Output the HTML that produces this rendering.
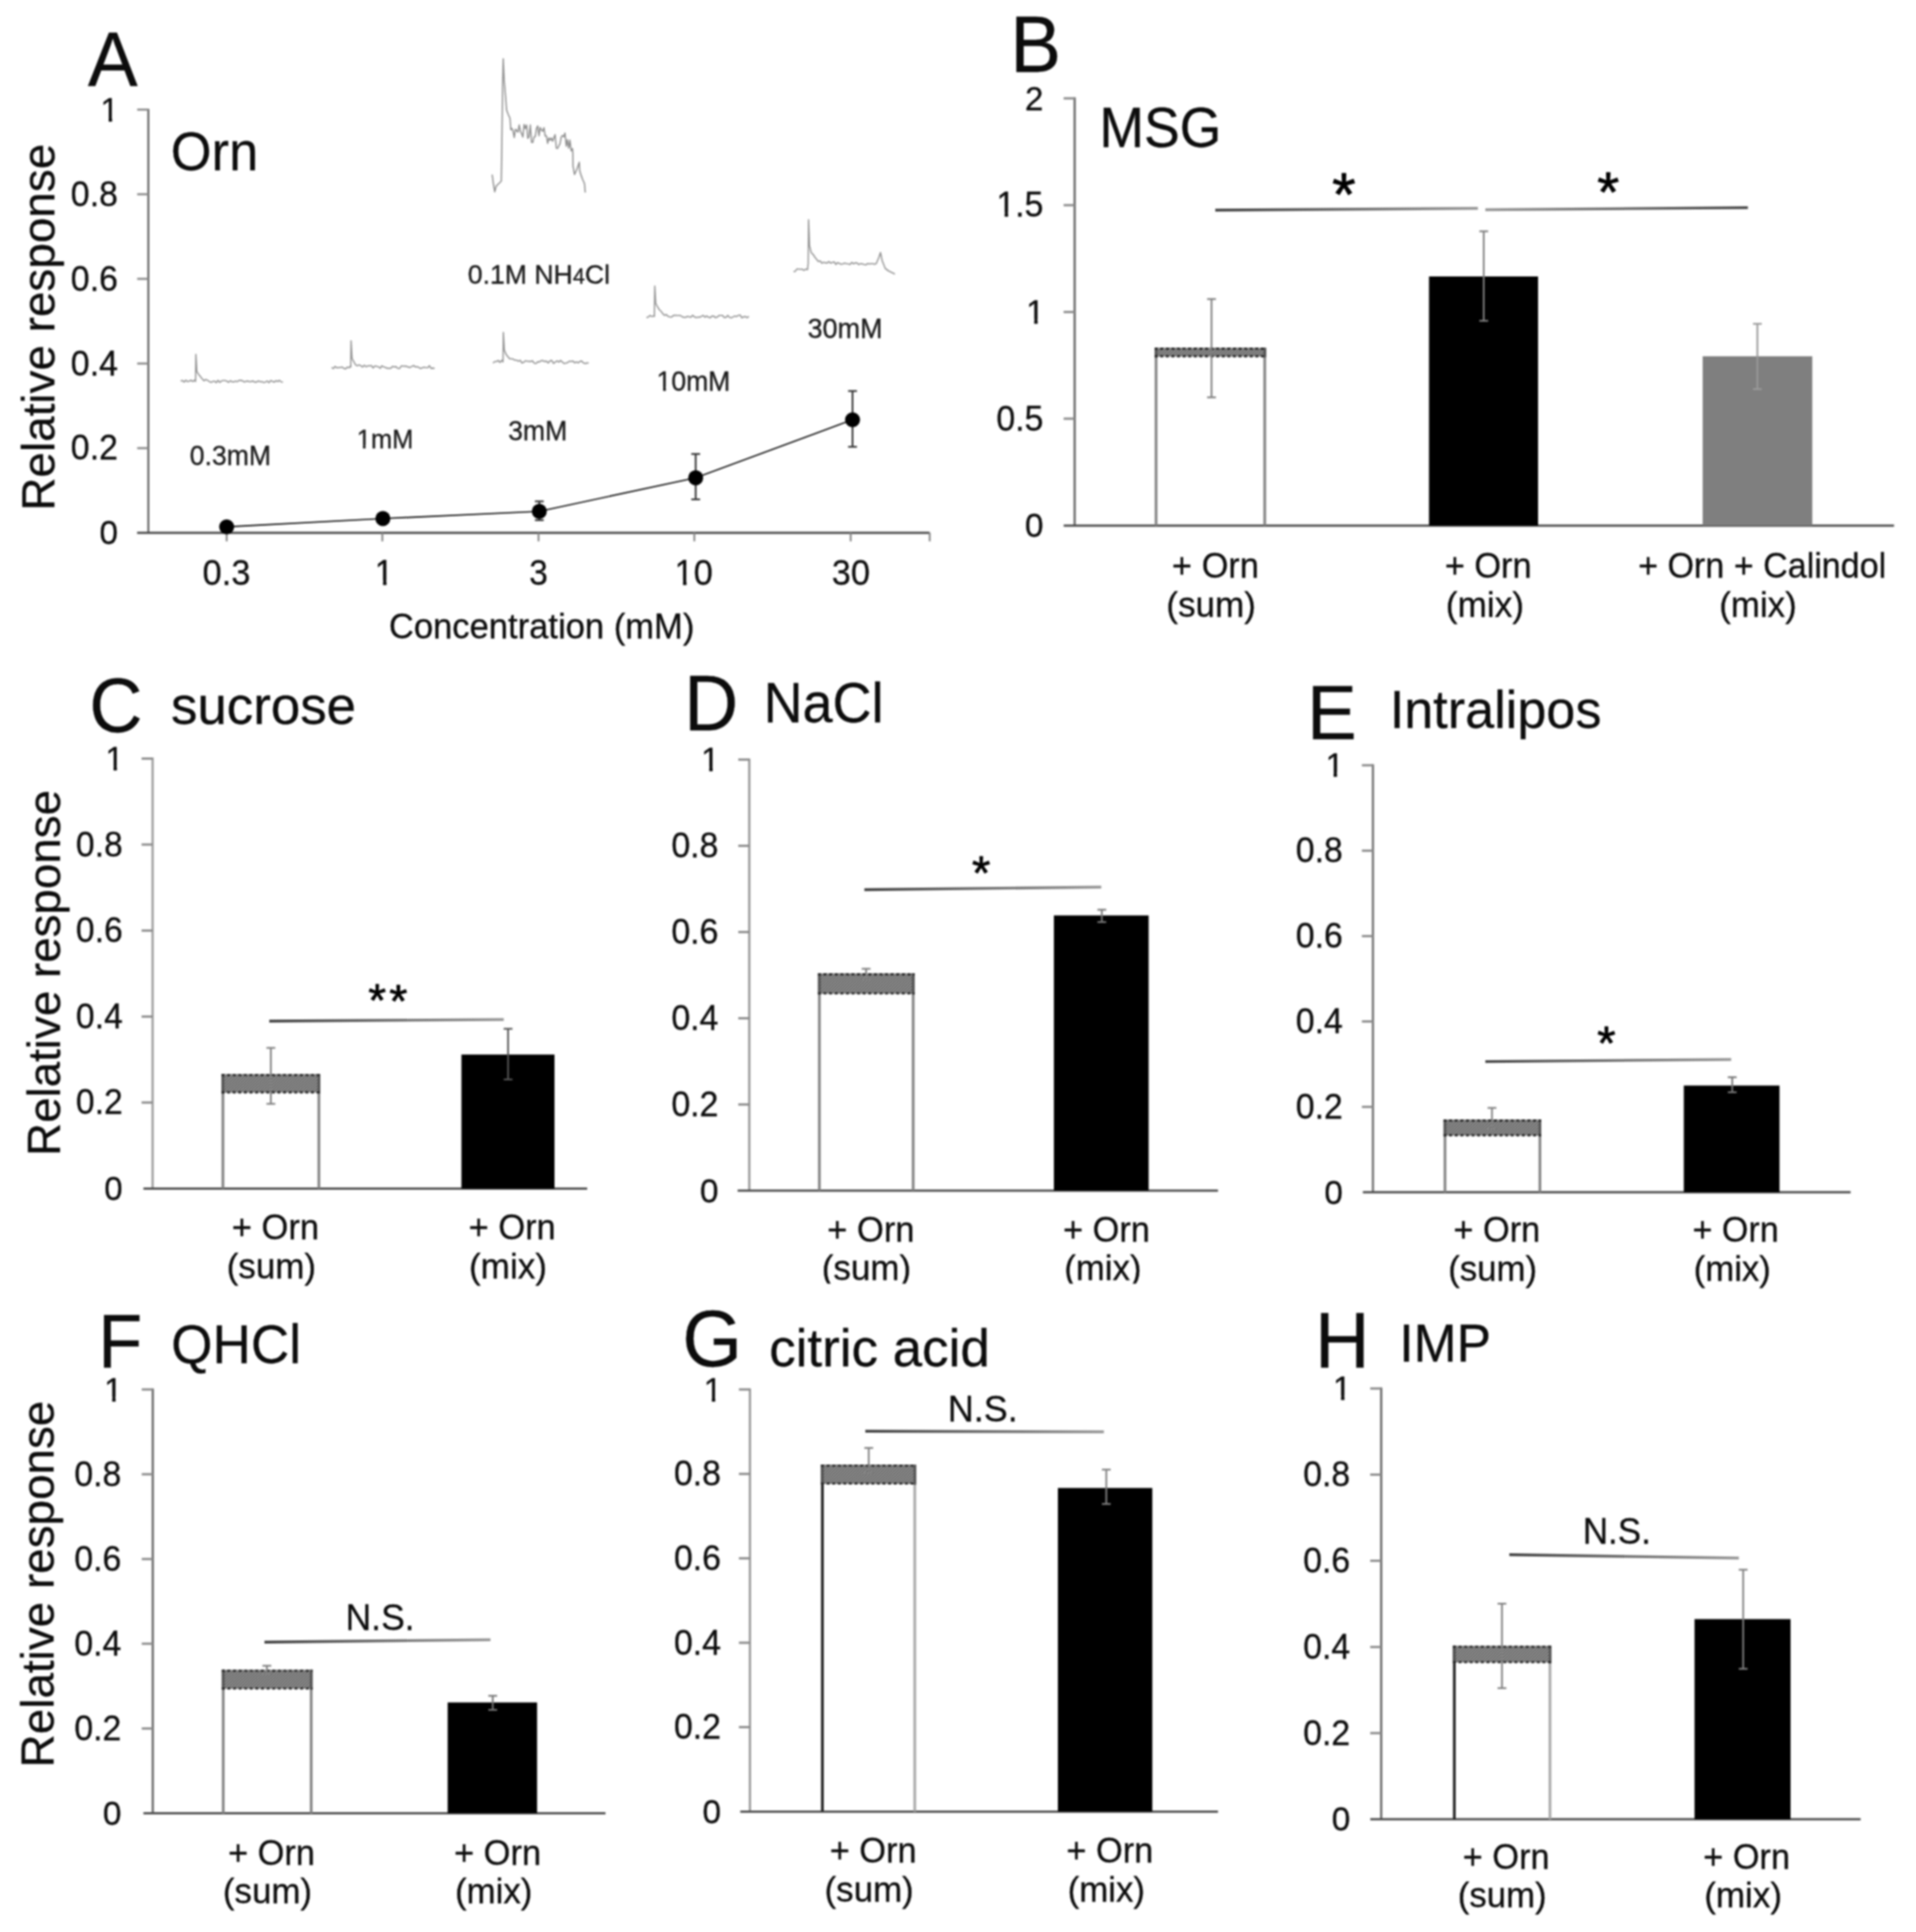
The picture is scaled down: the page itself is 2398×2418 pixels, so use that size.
<!DOCTYPE html>
<html><head><meta charset="utf-8"><title>Figure</title><style>html,body{margin:0;padding:0;background:#fff}svg{display:block;filter:blur(0.9px)}text{stroke:#0c0c0c;stroke-width:0.35px}</style></head><body>
<svg width="2398" height="2418" viewBox="0 0 2398 2418" font-family="'Liberation Sans', Arial, sans-serif">
<defs><pattern id="hatch" width="3.8" height="3.8" patternUnits="userSpaceOnUse"><rect width="3.8" height="3.8" fill="#c8c8c8"/><path d="M-0.95 0.95 L0.95 -0.95 M0 3.8 L3.8 0 M2.85 4.75 L4.75 2.85" stroke="#343434" stroke-width="1.35"/></pattern></defs>
<rect x="0.00" y="0.00" width="2398.00" height="2418.00" fill="#fff"/>
<text transform="translate(110.10,107.40) scale(0.9615,1)" font-size="97.12" fill="#0c0c0c">A</text>
<text transform="translate(68.40,639.09) rotate(-90) scale(1.0000,1)" font-size="57.36" fill="#0c0c0c">Relative response</text>
<line x1="185.70" y1="136.20" x2="185.70" y2="666.80" stroke="#6a6a6a" stroke-width="2.6"/>
<line x1="171.70" y1="137.20" x2="185.70" y2="137.20" stroke="#8a8a8a" stroke-width="2.6"/>
<line x1="171.70" y1="243.10" x2="185.70" y2="243.10" stroke="#8a8a8a" stroke-width="2.6"/>
<line x1="171.70" y1="349.00" x2="185.70" y2="349.00" stroke="#8a8a8a" stroke-width="2.6"/>
<line x1="171.70" y1="455.00" x2="185.70" y2="455.00" stroke="#8a8a8a" stroke-width="2.6"/>
<line x1="171.70" y1="560.90" x2="185.70" y2="560.90" stroke="#8a8a8a" stroke-width="2.6"/>
<line x1="171.60" y1="666.80" x2="1163.60" y2="666.80" stroke="#4a4a4a" stroke-width="2.8"/>
<line x1="283.70" y1="666.80" x2="283.70" y2="677.50" stroke="#8a8a8a" stroke-width="2.4"/>
<line x1="478.50" y1="666.80" x2="478.50" y2="677.50" stroke="#8a8a8a" stroke-width="2.4"/>
<line x1="674.00" y1="666.80" x2="674.00" y2="677.50" stroke="#8a8a8a" stroke-width="2.4"/>
<line x1="869.00" y1="666.80" x2="869.00" y2="677.50" stroke="#8a8a8a" stroke-width="2.4"/>
<line x1="1064.70" y1="666.80" x2="1064.70" y2="677.50" stroke="#8a8a8a" stroke-width="2.4"/>
<line x1="1163.60" y1="666.80" x2="1163.60" y2="677.50" stroke="#8a8a8a" stroke-width="2.4"/>
<g transform="translate(125.84,151.70) scale(0.9615,1)"><text font-size="43.18" fill="#0c0c0c">1</text><rect x="1.73" y="-5.61" width="8.85" height="8.20" fill="#fff"/><rect x="15.03" y="-5.61" width="8.29" height="8.20" fill="#fff"/></g>
<text transform="translate(88.58,257.60) scale(0.9615,1)" font-size="44.14" fill="#0c0c0c">0.8</text>
<text transform="translate(88.58,363.50) scale(0.9615,1)" font-size="44.14" fill="#0c0c0c">0.6</text>
<text transform="translate(88.58,469.50) scale(0.9615,1)" font-size="44.14" fill="#0c0c0c">0.4</text>
<text transform="translate(88.58,575.40) scale(0.9615,1)" font-size="44.14" fill="#0c0c0c">0.2</text>
<text transform="translate(124.39,681.30) scale(0.9615,1)" font-size="43.32" fill="#0c0c0c">0</text>
<text transform="translate(253.59,732.00) scale(0.9615,1)" font-size="44.76" fill="#0c0c0c">0.3</text>
<g transform="translate(469.09,732.00) scale(0.9615,1)"><text font-size="43.81" fill="#0c0c0c">1</text><rect x="1.75" y="-5.69" width="8.98" height="8.32" fill="#fff"/><rect x="15.24" y="-5.69" width="8.41" height="8.32" fill="#fff"/></g>
<text transform="translate(662.28,732.00) scale(0.9615,1)" font-size="43.93" fill="#0c0c0c">3</text>
<g transform="translate(844.33,732.00) scale(0.9615,1)"><text font-size="44.62" fill="#0c0c0c">10</text><rect x="1.78" y="-5.80" width="9.15" height="8.48" fill="#fff"/><rect x="15.53" y="-5.80" width="8.57" height="8.48" fill="#fff"/></g>
<text transform="translate(1041.07,732.00) scale(0.9615,1)" font-size="44.64" fill="#0c0c0c">30</text>
<text transform="translate(486.74,799.00) scale(0.9901,1)" font-size="43.71" fill="#0c0c0c">Concentration (mM)</text>
<text transform="translate(213.85,212.50) scale(0.9615,1)" font-size="68.22" fill="#0c0c0c">Orn</text>
<polyline points="283.7,659.3 479.2,649 675,640 870.7,598 1067,525.3" fill="none" stroke="#000" stroke-width="1.7"/>
<line x1="675.00" y1="627.50" x2="675.00" y2="651.00" stroke="#333" stroke-width="2.2"/>
<line x1="669.50" y1="627.50" x2="680.50" y2="627.50" stroke="#333" stroke-width="2.2"/>
<line x1="669.50" y1="651.00" x2="680.50" y2="651.00" stroke="#333" stroke-width="2.2"/>
<line x1="870.70" y1="568.20" x2="870.70" y2="625.00" stroke="#333" stroke-width="2.2"/>
<line x1="865.20" y1="568.20" x2="876.20" y2="568.20" stroke="#333" stroke-width="2.2"/>
<line x1="865.20" y1="625.00" x2="876.20" y2="625.00" stroke="#333" stroke-width="2.2"/>
<line x1="1067.00" y1="489.40" x2="1067.00" y2="559.20" stroke="#333" stroke-width="2.2"/>
<line x1="1061.50" y1="489.40" x2="1072.50" y2="489.40" stroke="#333" stroke-width="2.2"/>
<line x1="1061.50" y1="559.20" x2="1072.50" y2="559.20" stroke="#333" stroke-width="2.2"/>
<circle cx="283.7" cy="659.3" r="9.4" fill="#000"/>
<circle cx="479.2" cy="649" r="9.4" fill="#000"/>
<circle cx="675" cy="640" r="9.4" fill="#000"/>
<circle cx="870.7" cy="598" r="9.4" fill="#000"/>
<circle cx="1067" cy="525.3" r="9.4" fill="#000"/>
<text transform="translate(237.57,581.60) scale(0.9615,1)" font-size="34.55" fill="#1c1c1c">0.3mM</text>
<g transform="translate(446.40,561.30) scale(0.9615,1)"><text font-size="33.29" fill="#1c1c1c">1mM</text><rect x="1.33" y="-4.33" width="6.82" height="6.33" fill="#fff"/><rect x="11.58" y="-4.33" width="6.39" height="6.33" fill="#fff"/></g>
<text transform="translate(635.97,551.20) scale(0.9615,1)" font-size="34.57" fill="#1c1c1c">3mM</text>
<g transform="translate(821.81,488.60) scale(0.9615,1)"><text font-size="34.53" fill="#1c1c1c">10mM</text><rect x="1.38" y="-4.49" width="7.08" height="6.56" fill="#fff"/><rect x="12.02" y="-4.49" width="6.63" height="6.56" fill="#fff"/></g>
<text transform="translate(1010.75,422.80) scale(0.9615,1)" font-size="35.10" fill="#1c1c1c">30mM</text>
<text transform="translate(585.5,355.2)" font-size="33.3" fill="#1c1c1c">0.1M NH<tspan font-size="27">4</tspan>Cl</text>
<polyline points="226.0,476.8 228.2,476.2 230.4,478.1 232.6,475.9 234.8,477.6 237.0,477.0 239.2,475.8 241.4,477.5 243.6,475.7 244.7,477.5 245.2,443.5 246.4,465.3 248.6,468.4 250.8,471.2 253.0,474.0 255.2,476.5 257.4,475.0 259.6,475.8 261.8,477.4 264.0,478.6 266.2,477.5 268.4,477.0 270.6,478.9 272.8,476.0 275.0,478.6 277.2,476.8 279.4,476.3 281.6,476.3 283.8,476.9 286.0,478.5 288.2,476.5 290.4,477.8 292.6,477.9 294.8,477.1 297.0,477.7 299.2,476.1 301.4,476.1 303.6,476.6 305.8,478.1 308.0,477.3 310.2,476.9 312.4,477.8 314.6,477.4 316.8,476.9 319.0,478.4 321.2,478.1 323.4,476.7 325.6,477.7 327.8,477.6 330.0,478.7 332.2,478.2 334.4,476.8 336.6,479.0 338.8,476.3 341.0,477.2 343.2,478.3 345.4,476.4 347.6,477.5 349.8,476.0 352.0,478.0 354.2,478.3" fill="none" stroke="#929292" stroke-width="1.6" stroke-linejoin="round"/>
<polyline points="415.0,459.9 417.2,461.3 419.4,458.6 421.6,460.4 423.8,460.0 426.0,459.9 428.2,459.3 430.4,461.1 432.6,461.6 434.8,459.4 437.0,460.3 439.2,457.4 438.9,459.5 439.4,426.5 440.6,448.6 442.8,452.6 445.0,456.6 447.2,457.7 449.4,456.6 451.6,457.7 453.8,459.3 456.0,457.1 458.2,459.0 460.4,457.9 462.6,457.8 464.8,457.6 467.0,460.5 469.2,458.0 471.4,458.5 473.6,459.0 475.8,461.0 478.0,457.8 480.2,459.3 482.4,459.7 484.6,461.0 486.8,460.8 489.0,461.0 491.2,458.6 493.4,459.2 495.6,458.9 497.8,461.0 500.0,461.3 502.2,458.1 504.4,458.2 506.6,458.4 508.8,458.4 511.0,459.4 513.2,459.9 515.4,458.6 517.6,457.5 519.8,459.2 522.0,459.0 524.2,459.8 526.4,461.3 528.6,460.3 530.8,459.6 533.0,460.0 535.2,460.2 537.4,457.7 539.6,461.1 541.8,460.6 544.0,461.0" fill="none" stroke="#929292" stroke-width="1.6" stroke-linejoin="round"/>
<polyline points="617.0,454.4 619.2,452.5 621.4,452.5 623.6,451.1 625.8,453.6 628.0,450.9 629.5,453.0 630.0,416.0 631.2,438.2 633.4,443.4 635.6,446.2 637.8,448.9 640.0,449.0 642.2,449.5 644.4,450.7 646.6,450.8 648.8,452.1 651.0,450.9 653.2,454.3 655.4,453.4 657.6,451.5 659.8,452.0 662.0,452.4 664.2,452.4 666.4,451.5 668.6,454.4 670.8,455.0 673.0,452.9 675.2,452.9 677.4,451.3 679.6,451.4 681.8,452.4 684.0,452.1 686.2,454.3 688.4,451.6 690.6,451.1 692.8,454.8 695.0,453.1 697.2,451.6 699.4,453.2 701.6,451.1 703.8,453.1 706.0,454.9 708.2,454.5 710.4,453.8 712.6,452.0 714.8,452.5 717.0,451.7 719.2,454.1 721.4,453.1 723.6,454.1 725.8,452.3 728.0,451.9 730.2,454.2 732.4,454.9 734.6,454.4 736.8,454.2" fill="none" stroke="#929292" stroke-width="1.6" stroke-linejoin="round"/>
<polyline points="809.0,397.4 811.2,397.0 813.4,394.8 815.6,396.1 817.8,395.4 819.0,396.0 819.5,358.0 820.7,379.9 822.9,383.8 825.1,387.5 827.3,389.5 829.5,392.6 831.7,394.7 833.9,393.6 836.1,396.0 838.3,396.6 840.5,396.8 842.7,394.9 844.9,394.5 847.1,394.7 849.3,394.7 851.5,394.8 853.7,396.3 855.9,397.3 858.1,397.2 860.3,395.9 862.5,396.5 864.7,397.1 866.9,394.5 869.1,396.6 871.3,397.5 873.5,397.0 875.7,396.9 877.9,395.9 880.1,394.8 882.3,397.0 884.5,395.4 886.7,397.1 888.9,397.7 891.1,395.6 893.3,395.6 895.5,397.6 897.7,396.8 899.9,394.8 902.1,394.7 904.3,394.7 906.5,397.5 908.7,397.1 910.9,394.7 913.1,397.2 915.3,397.7 917.5,396.6 919.7,395.5 921.9,396.2 924.1,394.7 926.3,394.3 928.5,397.7 930.7,396.5 932.9,396.1 935.1,397.6 937.3,395.8" fill="none" stroke="#929292" stroke-width="1.6" stroke-linejoin="round"/>
<polyline points="993.0,339.8 995.2,339.6 997.4,336.6 999.6,336.8 1001.8,337.0 1004.0,336.8 1006.2,338.4 1008.4,336.8 1010.6,337.6 1011.5,330.0 1012.0,275.0 1013.2,307.7 1015.4,316.4 1017.6,318.3 1019.8,321.7 1022.0,324.4 1024.2,327.3 1026.4,326.5 1028.6,329.4 1030.8,328.3 1033.0,328.9 1035.2,329.2 1037.4,327.4 1039.6,329.3 1041.8,328.4 1044.0,327.8 1046.2,331.0 1048.4,328.6 1050.6,329.8 1052.8,330.8 1055.0,330.2 1057.2,329.3 1059.4,330.0 1061.6,330.2 1063.8,331.1 1066.0,328.4 1068.2,330.2 1070.4,329.0 1072.6,329.1 1074.8,331.1 1077.0,330.0 1079.2,330.2 1081.4,331.0 1083.6,331.6 1085.8,329.8 1088.0,330.4 1090.2,330.0 1092.4,330.0 1094.6,330.8 1096.8,329.8 1100.0,322.0 1102.0,316.0 1104.0,326.0 1108.0,336.0 1112.0,339.0 1116.0,341.0 1120.0,343.0" fill="none" stroke="#929292" stroke-width="1.6" stroke-linejoin="round"/>
<polyline points="616.0,218.5 617.5,230.0 619.2,240.0 621.0,233.0 624.0,230.0 627.4,226.7 628.2,175.0 629.0,110.0 629.8,73.5 631.0,100.0 633.0,124.0 634.0,137.6 636.0,143.0 638.3,148.0 639.3,162.5 640.5,160.5 642.0,163.3 643.6,172.1 645.1,161.9 646.7,163.2 648.2,165.4 649.8,156.4 651.3,164.3 652.9,167.4 654.4,171.5 656.0,155.7 657.5,160.9 659.1,156.4 660.6,173.2 662.2,170.9 663.7,156.3 665.3,178.2 666.8,178.2 668.4,171.4 669.9,170.9 671.5,160.7 673.0,157.7 674.6,169.9 676.1,159.5 677.7,162.8 679.2,164.3 680.8,159.8 682.3,170.1 683.9,170.0 685.4,179.5 687.0,172.5 688.5,175.6 690.1,172.7 691.6,176.8 693.2,172.4 694.7,168.6 696.3,185.5 697.8,185.8 699.4,182.6 700.9,179.9 702.5,171.2 704.0,169.6 705.6,171.3 707.1,166.6 708.7,183.0 710.2,174.9 711.8,185.5 713.3,175.3 714.9,188.8 716.5,186.0 717.0,192.5 717.2,208.0 719.0,218.4 722.0,212.0 725.0,203.0 725.6,214.0 727.3,219.4 729.0,224.0 731.5,229.8 732.5,241.0" fill="none" stroke="#8e8e8e" stroke-width="1.6" stroke-linejoin="round"/>
<text transform="translate(1264.34,89.70) scale(0.9615,1)" font-size="99.53" fill="#0c0c0c">B</text>
<text transform="translate(1375.94,184.00) scale(0.9615,1)" font-size="69.69" fill="#0c0c0c">MSG</text>
<line x1="1345.00" y1="121.80" x2="1345.00" y2="657.80" stroke="#6a6a6a" stroke-width="2.8"/>
<line x1="1331.20" y1="123.10" x2="1345.00" y2="123.10" stroke="#8a8a8a" stroke-width="2.8"/>
<line x1="1331.20" y1="256.80" x2="1345.00" y2="256.80" stroke="#8a8a8a" stroke-width="2.8"/>
<line x1="1331.20" y1="390.50" x2="1345.00" y2="390.50" stroke="#8a8a8a" stroke-width="2.8"/>
<line x1="1331.20" y1="524.00" x2="1345.00" y2="524.00" stroke="#8a8a8a" stroke-width="2.8"/>
<line x1="1331.30" y1="657.80" x2="2370.50" y2="657.80" stroke="#4a4a4a" stroke-width="2.8"/>
<text transform="translate(1282.79,137.60) scale(0.9615,1)" font-size="43.24" fill="#0c0c0c">2</text>
<g transform="translate(1246.98,271.30) scale(0.9615,1)"><text font-size="44.13" fill="#0c0c0c">1.5</text><rect x="1.77" y="-5.74" width="9.05" height="8.38" fill="#fff"/><rect x="15.36" y="-5.74" width="8.47" height="8.38" fill="#fff"/></g>
<g transform="translate(1284.23,405.00) scale(0.9615,1)"><text font-size="43.18" fill="#0c0c0c">1</text><rect x="1.73" y="-5.61" width="8.85" height="8.20" fill="#fff"/><rect x="15.03" y="-5.61" width="8.29" height="8.20" fill="#fff"/></g>
<text transform="translate(1246.97,538.50) scale(0.9615,1)" font-size="44.14" fill="#0c0c0c">0.5</text>
<text transform="translate(1282.78,672.30) scale(0.9615,1)" font-size="43.32" fill="#0c0c0c">0</text>
<rect x="1445.20" y="435.20" width="139.40" height="11.10" fill="url(#hatch)"/>
<line x1="1446.90" y1="435.20" x2="1446.90" y2="657.80" stroke="#858585" stroke-width="3.4"/>
<line x1="1582.90" y1="435.20" x2="1582.90" y2="657.80" stroke="#858585" stroke-width="3.4"/>
<line x1="1446.90" y1="435.20" x2="1446.90" y2="447.30" stroke="#555" stroke-width="3.4"/>
<line x1="1582.90" y1="435.20" x2="1582.90" y2="447.30" stroke="#555" stroke-width="3.4"/>
<line x1="1445.20" y1="436.40" x2="1584.60" y2="436.40" stroke="#222" stroke-width="2.6" stroke-dasharray="3.6 3.4"/>
<line x1="1445.20" y1="445.90" x2="1584.60" y2="445.90" stroke="#222" stroke-width="2.6" stroke-dasharray="3.6 3.4"/>
<rect x="1788.50" y="346.00" width="136.50" height="311.80" fill="#000"/>
<rect x="2131.00" y="445.90" width="137.20" height="211.90" fill="#7f7f7f"/>
<line x1="1516.30" y1="374.30" x2="1516.30" y2="497.30" stroke="#808080" stroke-width="2.2"/>
<line x1="1510.80" y1="374.30" x2="1521.80" y2="374.30" stroke="#808080" stroke-width="2.2"/>
<line x1="1510.80" y1="497.30" x2="1521.80" y2="497.30" stroke="#808080" stroke-width="2.2"/>
<line x1="1857.00" y1="289.50" x2="1857.00" y2="401.50" stroke="#808080" stroke-width="2.2"/>
<line x1="1851.50" y1="289.50" x2="1862.50" y2="289.50" stroke="#808080" stroke-width="2.2"/>
<line x1="1851.50" y1="401.50" x2="1862.50" y2="401.50" stroke="#808080" stroke-width="2.2"/>
<line x1="2199.50" y1="405.30" x2="2199.50" y2="487.00" stroke="#9a9a9a" stroke-width="2.2"/>
<line x1="2194.00" y1="405.30" x2="2205.00" y2="405.30" stroke="#9a9a9a" stroke-width="2.2"/>
<line x1="2194.00" y1="487.00" x2="2205.00" y2="487.00" stroke="#9a9a9a" stroke-width="2.2"/>
<linearGradient id="gB1" gradientUnits="userSpaceOnUse" x1="1521" y1="0" x2="1849.7" y2="0"><stop offset="0" stop-color="#3c3c3c"/><stop offset="1" stop-color="#959595"/></linearGradient>
<path d="M1521.0 263.0 L1849.7 260.8" stroke="url(#gB1)" stroke-width="3.4" fill="none"/>
<linearGradient id="gB2" gradientUnits="userSpaceOnUse" x1="1859" y1="0" x2="2187.6" y2="0"><stop offset="0" stop-color="#959595"/><stop offset="1" stop-color="#3c3c3c"/></linearGradient>
<path d="M1859.0 262.5 L2187.6 259.9" stroke="url(#gB2)" stroke-width="3.4" fill="none"/>
<text transform="translate(1667.37,268.53)" font-size="75.56" fill="#000" style="stroke:#000;stroke-width:0.9px;stroke-linejoin:round">*</text>
<text transform="translate(1998.94,264.68)" font-size="70.83" fill="#000" style="stroke:#000;stroke-width:0.9px;stroke-linejoin:round">*</text>
<text transform="translate(1466.85,723.00) scale(0.9709,1)" font-size="44.27" fill="#0c0c0c">+ Orn</text>
<text transform="translate(1459.87,771.60) scale(1.0000,1)" font-size="43.79" fill="#0c0c0c">(sum)</text>
<text transform="translate(1808.15,723.00) scale(0.9709,1)" font-size="44.27" fill="#0c0c0c">+ Orn</text>
<text transform="translate(1809.56,771.60) scale(1.0000,1)" font-size="44.05" fill="#0c0c0c">(mix)</text>
<text transform="translate(2050.17,723.00) scale(0.9709,1)" font-size="43.95" fill="#0c0c0c">+ Orn + Calindol</text>
<text transform="translate(2151.68,771.60) scale(1.0000,1)" font-size="43.71" fill="#0c0c0c">(mix)</text>
<text transform="translate(111.69,915.80) scale(0.9615,1)" font-size="95.97" fill="#0c0c0c">C</text>
<text transform="translate(213.91,905.80) scale(1.0000,1)" font-size="66.19" fill="#0c0c0c">sucrose</text>
<text transform="translate(75.10,1446.68) rotate(-90) scale(1.0000,1)" font-size="57.21" fill="#0c0c0c">Relative response</text>
<line x1="191.00" y1="948.10" x2="191.00" y2="1487.60" stroke="#9c9c9c" stroke-width="2.8"/>
<line x1="177.20" y1="949.40" x2="191.00" y2="949.40" stroke="#8a8a8a" stroke-width="2.8"/>
<line x1="177.20" y1="1057.00" x2="191.00" y2="1057.00" stroke="#8a8a8a" stroke-width="2.8"/>
<line x1="177.20" y1="1164.70" x2="191.00" y2="1164.70" stroke="#8a8a8a" stroke-width="2.8"/>
<line x1="177.20" y1="1272.30" x2="191.00" y2="1272.30" stroke="#8a8a8a" stroke-width="2.8"/>
<line x1="177.20" y1="1379.90" x2="191.00" y2="1379.90" stroke="#8a8a8a" stroke-width="2.8"/>
<line x1="179.50" y1="1487.60" x2="734.90" y2="1487.60" stroke="#4a4a4a" stroke-width="2.8"/>
<g transform="translate(132.04,963.90) scale(0.9615,1)"><text font-size="42.77" fill="#0c0c0c">1</text><rect x="1.71" y="-5.56" width="8.77" height="8.13" fill="#fff"/><rect x="14.88" y="-5.56" width="8.21" height="8.13" fill="#fff"/></g>
<text transform="translate(95.11,1071.50) scale(0.9615,1)" font-size="43.72" fill="#0c0c0c">0.8</text>
<text transform="translate(95.11,1179.20) scale(0.9615,1)" font-size="43.72" fill="#0c0c0c">0.6</text>
<text transform="translate(95.11,1286.80) scale(0.9615,1)" font-size="43.73" fill="#0c0c0c">0.4</text>
<text transform="translate(95.11,1394.40) scale(0.9615,1)" font-size="43.72" fill="#0c0c0c">0.2</text>
<text transform="translate(130.59,1502.10) scale(0.9615,1)" font-size="42.90" fill="#0c0c0c">0</text>
<rect x="277.30" y="1344.30" width="123.50" height="23.20" fill="url(#hatch)"/>
<line x1="279.00" y1="1344.30" x2="279.00" y2="1487.60" stroke="#858585" stroke-width="3.4"/>
<line x1="399.10" y1="1344.30" x2="399.10" y2="1487.60" stroke="#858585" stroke-width="3.4"/>
<line x1="279.00" y1="1344.30" x2="279.00" y2="1368.50" stroke="#555" stroke-width="3.4"/>
<line x1="399.10" y1="1344.30" x2="399.10" y2="1368.50" stroke="#555" stroke-width="3.4"/>
<line x1="277.30" y1="1345.50" x2="400.80" y2="1345.50" stroke="#222" stroke-width="2.6" stroke-dasharray="3.6 3.4"/>
<line x1="277.30" y1="1367.10" x2="400.80" y2="1367.10" stroke="#222" stroke-width="2.6" stroke-dasharray="3.6 3.4"/>
<rect x="577.50" y="1319.80" width="116.50" height="167.80" fill="#000"/>
<line x1="339.00" y1="1311.50" x2="339.00" y2="1381.50" stroke="#808080" stroke-width="2.2"/>
<line x1="333.50" y1="1311.50" x2="344.50" y2="1311.50" stroke="#808080" stroke-width="2.2"/>
<line x1="333.50" y1="1381.50" x2="344.50" y2="1381.50" stroke="#808080" stroke-width="2.2"/>
<line x1="635.90" y1="1287.60" x2="635.90" y2="1351.00" stroke="#555" stroke-width="2.2"/>
<line x1="630.40" y1="1287.60" x2="641.40" y2="1287.60" stroke="#555" stroke-width="2.2"/>
<line x1="630.40" y1="1351.00" x2="641.40" y2="1351.00" stroke="#555" stroke-width="2.2"/>
<linearGradient id="gC" gradientUnits="userSpaceOnUse" x1="337" y1="0" x2="630.5" y2="0"><stop offset="0" stop-color="#3c3c3c"/><stop offset="1" stop-color="#959595"/></linearGradient>
<path d="M337.0 1278.0 L630.5 1276.0" stroke="url(#gC)" stroke-width="3.4" fill="none"/>
<text transform="translate(460.95,1272.09)" font-size="56.94" fill="#000" style="stroke:#000;stroke-width:0.9px;stroke-linejoin:round">*</text>
<text transform="translate(487.23,1272.86)" font-size="58.06" fill="#000" style="stroke:#000;stroke-width:0.9px;stroke-linejoin:round">*</text>
<text transform="translate(289.93,1551.30) scale(0.9709,1)" font-size="44.61" fill="#0c0c0c">+ Orn</text>
<text transform="translate(283.77,1600.00) scale(1.0000,1)" font-size="43.79" fill="#0c0c0c">(sum)</text>
<text transform="translate(586.44,1551.30) scale(0.9709,1)" font-size="44.48" fill="#0c0c0c">+ Orn</text>
<text transform="translate(586.96,1600.00) scale(1.0000,1)" font-size="43.95" fill="#0c0c0c">(mix)</text>
<text transform="translate(856.30,914.00) scale(0.9615,1)" font-size="97.53" fill="#0c0c0c">D</text>
<text transform="translate(955.70,903.50) scale(0.9615,1)" font-size="70.22" fill="#0c0c0c">NaCl</text>
<line x1="937.80" y1="949.40" x2="937.80" y2="1490.10" stroke="#969696" stroke-width="2.8"/>
<line x1="924.00" y1="950.70" x2="937.80" y2="950.70" stroke="#8a8a8a" stroke-width="2.8"/>
<line x1="924.00" y1="1058.60" x2="937.80" y2="1058.60" stroke="#8a8a8a" stroke-width="2.8"/>
<line x1="924.00" y1="1166.50" x2="937.80" y2="1166.50" stroke="#8a8a8a" stroke-width="2.8"/>
<line x1="924.00" y1="1274.40" x2="937.80" y2="1274.40" stroke="#8a8a8a" stroke-width="2.8"/>
<line x1="924.00" y1="1382.30" x2="937.80" y2="1382.30" stroke="#8a8a8a" stroke-width="2.8"/>
<line x1="923.20" y1="1490.10" x2="1524.40" y2="1490.10" stroke="#4a4a4a" stroke-width="2.8"/>
<g transform="translate(877.48,965.20) scale(0.9615,1)"><text font-size="43.29" fill="#0c0c0c">1</text><rect x="1.73" y="-5.63" width="8.87" height="8.22" fill="#fff"/><rect x="15.06" y="-5.63" width="8.31" height="8.22" fill="#fff"/></g>
<text transform="translate(840.13,1073.10) scale(0.9615,1)" font-size="44.24" fill="#0c0c0c">0.8</text>
<text transform="translate(840.13,1181.00) scale(0.9615,1)" font-size="44.24" fill="#0c0c0c">0.6</text>
<text transform="translate(840.13,1288.90) scale(0.9615,1)" font-size="44.25" fill="#0c0c0c">0.4</text>
<text transform="translate(840.13,1396.80) scale(0.9615,1)" font-size="44.24" fill="#0c0c0c">0.2</text>
<text transform="translate(876.02,1504.60) scale(0.9615,1)" font-size="43.42" fill="#0c0c0c">0</text>
<rect x="1023.80" y="1218.20" width="120.80" height="25.50" fill="url(#hatch)"/>
<line x1="1025.50" y1="1218.20" x2="1025.50" y2="1490.10" stroke="#858585" stroke-width="3.4"/>
<line x1="1142.90" y1="1218.20" x2="1142.90" y2="1490.10" stroke="#858585" stroke-width="3.4"/>
<line x1="1025.50" y1="1218.20" x2="1025.50" y2="1244.70" stroke="#555" stroke-width="3.4"/>
<line x1="1142.90" y1="1218.20" x2="1142.90" y2="1244.70" stroke="#555" stroke-width="3.4"/>
<line x1="1023.80" y1="1219.40" x2="1144.60" y2="1219.40" stroke="#222" stroke-width="2.6" stroke-dasharray="3.6 3.4"/>
<line x1="1023.80" y1="1243.30" x2="1144.60" y2="1243.30" stroke="#222" stroke-width="2.6" stroke-dasharray="3.6 3.4"/>
<rect x="1319.00" y="1145.70" width="118.60" height="344.40" fill="#000"/>
<line x1="1084.00" y1="1212.50" x2="1084.00" y2="1225.80" stroke="#808080" stroke-width="2.2"/>
<line x1="1078.50" y1="1212.50" x2="1089.50" y2="1212.50" stroke="#808080" stroke-width="2.2"/>
<line x1="1078.50" y1="1225.80" x2="1089.50" y2="1225.80" stroke="#808080" stroke-width="2.2"/>
<line x1="1379.00" y1="1138.60" x2="1379.00" y2="1154.00" stroke="#777" stroke-width="2.2"/>
<line x1="1373.50" y1="1138.60" x2="1384.50" y2="1138.60" stroke="#777" stroke-width="2.2"/>
<line x1="1373.50" y1="1154.00" x2="1384.50" y2="1154.00" stroke="#777" stroke-width="2.2"/>
<linearGradient id="gD" gradientUnits="userSpaceOnUse" x1="1081.8" y1="0" x2="1378.3" y2="0"><stop offset="0" stop-color="#3c3c3c"/><stop offset="1" stop-color="#959595"/></linearGradient>
<path d="M1081.8 1113.5 L1378.3 1110.2" stroke="url(#gD)" stroke-width="3.4" fill="none"/>
<text transform="translate(1216.61,1113.22)" font-size="59.17" fill="#000" style="stroke:#000;stroke-width:0.9px;stroke-linejoin:round">*</text>
<text transform="translate(1035.24,1553.60) scale(0.9709,1)" font-size="44.57" fill="#0c0c0c">+ Orn</text>
<text transform="translate(1028.47,1602.00) scale(1.0000,1)" font-size="43.79" fill="#0c0c0c">(sum)</text>
<text transform="translate(1330.55,1553.60) scale(0.9709,1)" font-size="44.23" fill="#0c0c0c">+ Orn</text>
<text transform="translate(1332.09,1602.00) scale(1.0000,1)" font-size="43.48" fill="#0c0c0c">(mix)</text>
<rect x="1015.00" y="1606.60" width="440.00" height="22.00" fill="#fff"/>
<text transform="translate(1635.83,925.00) scale(0.9615,1)" font-size="97.13" fill="#0c0c0c">E</text>
<text transform="translate(1739.42,911.00) scale(0.9901,1)" font-size="65.94" fill="#0c0c0c">Intralipos</text>
<line x1="1718.30" y1="956.50" x2="1718.30" y2="1492.20" stroke="#757575" stroke-width="2.8"/>
<line x1="1704.50" y1="957.80" x2="1718.30" y2="957.80" stroke="#8a8a8a" stroke-width="2.8"/>
<line x1="1704.50" y1="1064.70" x2="1718.30" y2="1064.70" stroke="#8a8a8a" stroke-width="2.8"/>
<line x1="1704.50" y1="1171.60" x2="1718.30" y2="1171.60" stroke="#8a8a8a" stroke-width="2.8"/>
<line x1="1704.50" y1="1278.40" x2="1718.30" y2="1278.40" stroke="#8a8a8a" stroke-width="2.8"/>
<line x1="1704.50" y1="1385.30" x2="1718.30" y2="1385.30" stroke="#8a8a8a" stroke-width="2.8"/>
<line x1="1705.70" y1="1492.20" x2="2316.20" y2="1492.20" stroke="#4a4a4a" stroke-width="2.8"/>
<g transform="translate(1658.93,972.30) scale(0.9615,1)"><text font-size="43.18" fill="#0c0c0c">1</text><rect x="1.73" y="-5.61" width="8.85" height="8.20" fill="#fff"/><rect x="15.03" y="-5.61" width="8.29" height="8.20" fill="#fff"/></g>
<text transform="translate(1621.67,1079.20) scale(0.9615,1)" font-size="44.14" fill="#0c0c0c">0.8</text>
<text transform="translate(1621.67,1186.10) scale(0.9615,1)" font-size="44.14" fill="#0c0c0c">0.6</text>
<text transform="translate(1621.67,1292.90) scale(0.9615,1)" font-size="44.14" fill="#0c0c0c">0.4</text>
<text transform="translate(1621.67,1399.80) scale(0.9615,1)" font-size="44.14" fill="#0c0c0c">0.2</text>
<text transform="translate(1657.48,1506.70) scale(0.9615,1)" font-size="43.32" fill="#0c0c0c">0</text>
<rect x="1806.80" y="1401.20" width="122.20" height="20.10" fill="url(#hatch)"/>
<line x1="1808.50" y1="1401.20" x2="1808.50" y2="1492.20" stroke="#858585" stroke-width="3.4"/>
<line x1="1927.30" y1="1401.20" x2="1927.30" y2="1492.20" stroke="#858585" stroke-width="3.4"/>
<line x1="1808.50" y1="1401.20" x2="1808.50" y2="1422.30" stroke="#555" stroke-width="3.4"/>
<line x1="1927.30" y1="1401.20" x2="1927.30" y2="1422.30" stroke="#555" stroke-width="3.4"/>
<line x1="1806.80" y1="1402.40" x2="1929.00" y2="1402.40" stroke="#222" stroke-width="2.6" stroke-dasharray="3.6 3.4"/>
<line x1="1806.80" y1="1420.90" x2="1929.00" y2="1420.90" stroke="#222" stroke-width="2.6" stroke-dasharray="3.6 3.4"/>
<rect x="2107.40" y="1358.60" width="119.80" height="133.60" fill="#000"/>
<line x1="1867.30" y1="1386.60" x2="1867.30" y2="1413.00" stroke="#808080" stroke-width="2.2"/>
<line x1="1861.80" y1="1386.60" x2="1872.80" y2="1386.60" stroke="#808080" stroke-width="2.2"/>
<line x1="1861.80" y1="1413.00" x2="1872.80" y2="1413.00" stroke="#808080" stroke-width="2.2"/>
<line x1="2168.00" y1="1348.20" x2="2168.00" y2="1367.00" stroke="#777" stroke-width="2.2"/>
<line x1="2162.50" y1="1348.20" x2="2173.50" y2="1348.20" stroke="#777" stroke-width="2.2"/>
<line x1="2162.50" y1="1367.00" x2="2173.50" y2="1367.00" stroke="#777" stroke-width="2.2"/>
<linearGradient id="gE" gradientUnits="userSpaceOnUse" x1="1859" y1="0" x2="2166.7" y2="0"><stop offset="0" stop-color="#3c3c3c"/><stop offset="1" stop-color="#959595"/></linearGradient>
<path d="M1859.0 1328.6 L2166.7 1326.0" stroke="url(#gE)" stroke-width="3.4" fill="none"/>
<text transform="translate(1999.11,1325.92)" font-size="59.17" fill="#000" style="stroke:#000;stroke-width:0.9px;stroke-linejoin:round">*</text>
<text transform="translate(1818.95,1554.00) scale(0.9709,1)" font-size="44.27" fill="#0c0c0c">+ Orn</text>
<text transform="translate(1812.49,1603.00) scale(1.0000,1)" font-size="43.58" fill="#0c0c0c">(sum)</text>
<text transform="translate(2118.27,1554.00) scale(0.9709,1)" font-size="43.93" fill="#0c0c0c">+ Orn</text>
<text transform="translate(2119.69,1603.00) scale(1.0000,1)" font-size="43.52" fill="#0c0c0c">(mix)</text>
<text transform="translate(122.75,1710.60) scale(0.9615,1)" font-size="94.24" fill="#0c0c0c">F</text>
<text transform="translate(214.31,1705.70) scale(0.9615,1)" font-size="69.10" fill="#0c0c0c">QHCl</text>
<text transform="translate(66.90,2211.89) rotate(-90) scale(1.0000,1)" font-size="57.34" fill="#0c0c0c">Relative response</text>
<line x1="191.20" y1="1737.70" x2="191.20" y2="2269.40" stroke="#6a6a6a" stroke-width="2.8"/>
<line x1="177.40" y1="1739.00" x2="191.20" y2="1739.00" stroke="#8a8a8a" stroke-width="2.8"/>
<line x1="177.40" y1="1845.10" x2="191.20" y2="1845.10" stroke="#8a8a8a" stroke-width="2.8"/>
<line x1="177.40" y1="1951.20" x2="191.20" y2="1951.20" stroke="#8a8a8a" stroke-width="2.8"/>
<line x1="177.40" y1="2057.20" x2="191.20" y2="2057.20" stroke="#8a8a8a" stroke-width="2.8"/>
<line x1="177.40" y1="2163.30" x2="191.20" y2="2163.30" stroke="#8a8a8a" stroke-width="2.8"/>
<line x1="179.50" y1="2269.40" x2="757.80" y2="2269.40" stroke="#4a4a4a" stroke-width="2.8"/>
<g transform="translate(130.23,1753.50) scale(0.9615,1)"><text font-size="43.18" fill="#0c0c0c">1</text><rect x="1.73" y="-5.61" width="8.85" height="8.20" fill="#fff"/><rect x="15.03" y="-5.61" width="8.29" height="8.20" fill="#fff"/></g>
<text transform="translate(92.97,1859.60) scale(0.9615,1)" font-size="44.14" fill="#0c0c0c">0.8</text>
<text transform="translate(92.97,1965.70) scale(0.9615,1)" font-size="44.14" fill="#0c0c0c">0.6</text>
<text transform="translate(92.97,2071.70) scale(0.9615,1)" font-size="44.14" fill="#0c0c0c">0.4</text>
<text transform="translate(92.97,2177.80) scale(0.9615,1)" font-size="44.14" fill="#0c0c0c">0.2</text>
<text transform="translate(128.78,2283.90) scale(0.9615,1)" font-size="43.32" fill="#0c0c0c">0</text>
<rect x="277.70" y="2089.80" width="113.50" height="23.80" fill="url(#hatch)"/>
<line x1="279.40" y1="2089.80" x2="279.40" y2="2269.40" stroke="#858585" stroke-width="3.4"/>
<line x1="389.50" y1="2089.80" x2="389.50" y2="2269.40" stroke="#858585" stroke-width="3.4"/>
<line x1="279.40" y1="2089.80" x2="279.40" y2="2114.60" stroke="#555" stroke-width="3.4"/>
<line x1="389.50" y1="2089.80" x2="389.50" y2="2114.60" stroke="#555" stroke-width="3.4"/>
<line x1="277.70" y1="2091.00" x2="391.20" y2="2091.00" stroke="#222" stroke-width="2.6" stroke-dasharray="3.6 3.4"/>
<line x1="277.70" y1="2113.20" x2="391.20" y2="2113.20" stroke="#222" stroke-width="2.6" stroke-dasharray="3.6 3.4"/>
<rect x="560.30" y="2130.70" width="111.90" height="138.70" fill="#000"/>
<line x1="334.00" y1="2084.80" x2="334.00" y2="2095.00" stroke="#808080" stroke-width="2.2"/>
<line x1="328.50" y1="2084.80" x2="339.50" y2="2084.80" stroke="#808080" stroke-width="2.2"/>
<line x1="328.50" y1="2095.00" x2="339.50" y2="2095.00" stroke="#808080" stroke-width="2.2"/>
<line x1="616.70" y1="2122.40" x2="616.70" y2="2140.00" stroke="#777" stroke-width="2.2"/>
<line x1="611.20" y1="2122.40" x2="622.20" y2="2122.40" stroke="#777" stroke-width="2.2"/>
<line x1="611.20" y1="2140.00" x2="622.20" y2="2140.00" stroke="#777" stroke-width="2.2"/>
<linearGradient id="gF" gradientUnits="userSpaceOnUse" x1="331" y1="0" x2="613.8" y2="0"><stop offset="0" stop-color="#3c3c3c"/><stop offset="1" stop-color="#959595"/></linearGradient>
<path d="M331.0 2055.2 L613.8 2052.2" stroke="url(#gF)" stroke-width="3.4" fill="none"/>
<text transform="translate(432.44,2040.00) scale(0.9615,1)" font-size="46.24" fill="#0c0c0c">N.S.</text>
<text transform="translate(285.55,2333.60) scale(0.9709,1)" font-size="44.27" fill="#0c0c0c">+ Orn</text>
<text transform="translate(279.09,2382.00) scale(1.0000,1)" font-size="43.58" fill="#0c0c0c">(sum)</text>
<text transform="translate(568.14,2333.60) scale(0.9709,1)" font-size="44.48" fill="#0c0c0c">+ Orn</text>
<text transform="translate(569.48,2382.00) scale(1.0000,1)" font-size="43.62" fill="#0c0c0c">(mix)</text>
<text transform="translate(854.09,1710.00) scale(0.9615,1)" font-size="100.03" fill="#0c0c0c">G</text>
<text transform="translate(962.65,1709.50) scale(1.0000,1)" font-size="66.26" fill="#0c0c0c">citric acid</text>
<line x1="938.60" y1="1737.70" x2="938.60" y2="2267.30" stroke="#9a9a9a" stroke-width="2.8"/>
<line x1="924.80" y1="1739.00" x2="938.60" y2="1739.00" stroke="#8a8a8a" stroke-width="2.8"/>
<line x1="924.80" y1="1844.70" x2="938.60" y2="1844.70" stroke="#8a8a8a" stroke-width="2.8"/>
<line x1="924.80" y1="1950.30" x2="938.60" y2="1950.30" stroke="#8a8a8a" stroke-width="2.8"/>
<line x1="924.80" y1="2056.00" x2="938.60" y2="2056.00" stroke="#8a8a8a" stroke-width="2.8"/>
<line x1="924.80" y1="2161.60" x2="938.60" y2="2161.60" stroke="#8a8a8a" stroke-width="2.8"/>
<line x1="926.50" y1="2267.30" x2="1524.40" y2="2267.30" stroke="#4a4a4a" stroke-width="2.8"/>
<g transform="translate(880.73,1753.50) scale(0.9615,1)"><text font-size="43.18" fill="#0c0c0c">1</text><rect x="1.73" y="-5.61" width="8.85" height="8.20" fill="#fff"/><rect x="15.03" y="-5.61" width="8.29" height="8.20" fill="#fff"/></g>
<text transform="translate(843.47,1859.20) scale(0.9615,1)" font-size="44.14" fill="#0c0c0c">0.8</text>
<text transform="translate(843.47,1964.80) scale(0.9615,1)" font-size="44.14" fill="#0c0c0c">0.6</text>
<text transform="translate(843.47,2070.50) scale(0.9615,1)" font-size="44.14" fill="#0c0c0c">0.4</text>
<text transform="translate(843.47,2176.10) scale(0.9615,1)" font-size="44.14" fill="#0c0c0c">0.2</text>
<text transform="translate(879.28,2281.80) scale(0.9615,1)" font-size="43.32" fill="#0c0c0c">0</text>
<rect x="1027.60" y="1833.00" width="119.00" height="24.20" fill="url(#hatch)"/>
<line x1="1029.30" y1="1833.00" x2="1029.30" y2="2267.30" stroke="#222" stroke-width="3.4"/>
<line x1="1144.90" y1="1833.00" x2="1144.90" y2="2267.30" stroke="#aaa" stroke-width="3.4"/>
<line x1="1029.30" y1="1833.00" x2="1029.30" y2="1858.20" stroke="#555" stroke-width="3.4"/>
<line x1="1144.90" y1="1833.00" x2="1144.90" y2="1858.20" stroke="#555" stroke-width="3.4"/>
<line x1="1027.60" y1="1834.20" x2="1146.60" y2="1834.20" stroke="#222" stroke-width="2.6" stroke-dasharray="3.6 3.4"/>
<line x1="1027.60" y1="1856.80" x2="1146.60" y2="1856.80" stroke="#222" stroke-width="2.6" stroke-dasharray="3.6 3.4"/>
<rect x="1324.00" y="1862.30" width="118.20" height="405.00" fill="#000"/>
<line x1="1087.30" y1="1812.20" x2="1087.30" y2="1843.50" stroke="#808080" stroke-width="2.2"/>
<line x1="1081.80" y1="1812.20" x2="1092.80" y2="1812.20" stroke="#808080" stroke-width="2.2"/>
<line x1="1081.80" y1="1843.50" x2="1092.80" y2="1843.50" stroke="#808080" stroke-width="2.2"/>
<line x1="1384.60" y1="1839.30" x2="1384.60" y2="1882.30" stroke="#808080" stroke-width="2.2"/>
<line x1="1379.10" y1="1839.30" x2="1390.10" y2="1839.30" stroke="#808080" stroke-width="2.2"/>
<line x1="1379.10" y1="1882.30" x2="1390.10" y2="1882.30" stroke="#808080" stroke-width="2.2"/>
<linearGradient id="gG" gradientUnits="userSpaceOnUse" x1="1083" y1="0" x2="1381.6" y2="0"><stop offset="0" stop-color="#3c3c3c"/><stop offset="1" stop-color="#959595"/></linearGradient>
<path d="M1083.0 1791.3 L1381.6 1792.0" stroke="url(#gG)" stroke-width="3.4" fill="none"/>
<text transform="translate(1186.31,1778.80) scale(0.9615,1)" font-size="46.71" fill="#0c0c0c">N.S.</text>
<text transform="translate(1038.55,2331.00) scale(0.9709,1)" font-size="44.27" fill="#0c0c0c">+ Orn</text>
<text transform="translate(1032.09,2379.80) scale(1.0000,1)" font-size="43.58" fill="#0c0c0c">(sum)</text>
<text transform="translate(1334.75,2331.00) scale(0.9709,1)" font-size="44.27" fill="#0c0c0c">+ Orn</text>
<text transform="translate(1336.19,2379.80) scale(1.0000,1)" font-size="43.57" fill="#0c0c0c">(mix)</text>
<text transform="translate(1645.71,1710.60) scale(0.9615,1)" font-size="98.61" fill="#0c0c0c">H</text>
<text transform="translate(1751.18,1704.40) scale(0.9615,1)" font-size="67.23" fill="#0c0c0c">IMP</text>
<line x1="1728.70" y1="1736.50" x2="1728.70" y2="2276.90" stroke="#6a6a6a" stroke-width="2.8"/>
<line x1="1714.90" y1="1737.80" x2="1728.70" y2="1737.80" stroke="#8a8a8a" stroke-width="2.8"/>
<line x1="1714.90" y1="1845.60" x2="1728.70" y2="1845.60" stroke="#8a8a8a" stroke-width="2.8"/>
<line x1="1714.90" y1="1953.40" x2="1728.70" y2="1953.40" stroke="#8a8a8a" stroke-width="2.8"/>
<line x1="1714.90" y1="2061.30" x2="1728.70" y2="2061.30" stroke="#8a8a8a" stroke-width="2.8"/>
<line x1="1714.90" y1="2169.10" x2="1728.70" y2="2169.10" stroke="#8a8a8a" stroke-width="2.8"/>
<line x1="1715.00" y1="2276.90" x2="2328.70" y2="2276.90" stroke="#4a4a4a" stroke-width="2.8"/>
<g transform="translate(1668.23,1752.30) scale(0.9615,1)"><text font-size="43.18" fill="#0c0c0c">1</text><rect x="1.73" y="-5.61" width="8.85" height="8.20" fill="#fff"/><rect x="15.03" y="-5.61" width="8.29" height="8.20" fill="#fff"/></g>
<text transform="translate(1630.97,1860.10) scale(0.9615,1)" font-size="44.14" fill="#0c0c0c">0.8</text>
<text transform="translate(1630.97,1967.90) scale(0.9615,1)" font-size="44.14" fill="#0c0c0c">0.6</text>
<text transform="translate(1630.97,2075.80) scale(0.9615,1)" font-size="44.14" fill="#0c0c0c">0.4</text>
<text transform="translate(1630.97,2183.60) scale(0.9615,1)" font-size="44.14" fill="#0c0c0c">0.2</text>
<text transform="translate(1666.78,2291.40) scale(0.9615,1)" font-size="43.32" fill="#0c0c0c">0</text>
<rect x="1818.50" y="2059.80" width="123.10" height="20.80" fill="url(#hatch)"/>
<line x1="1820.20" y1="2059.80" x2="1820.20" y2="2276.90" stroke="#222" stroke-width="3.4"/>
<line x1="1939.90" y1="2059.80" x2="1939.90" y2="2276.90" stroke="#aaa" stroke-width="3.4"/>
<line x1="1820.20" y1="2059.80" x2="1820.20" y2="2081.60" stroke="#555" stroke-width="3.4"/>
<line x1="1939.90" y1="2059.80" x2="1939.90" y2="2081.60" stroke="#555" stroke-width="3.4"/>
<line x1="1818.50" y1="2061.00" x2="1941.60" y2="2061.00" stroke="#222" stroke-width="2.6" stroke-dasharray="3.6 3.4"/>
<line x1="1818.50" y1="2080.20" x2="1941.60" y2="2080.20" stroke="#222" stroke-width="2.6" stroke-dasharray="3.6 3.4"/>
<rect x="2120.80" y="2026.40" width="120.20" height="250.50" fill="#000"/>
<line x1="1879.80" y1="2007.10" x2="1879.80" y2="2112.80" stroke="#808080" stroke-width="2.2"/>
<line x1="1874.30" y1="2007.10" x2="1885.30" y2="2007.10" stroke="#808080" stroke-width="2.2"/>
<line x1="1874.30" y1="2112.80" x2="1885.30" y2="2112.80" stroke="#808080" stroke-width="2.2"/>
<line x1="2181.70" y1="1964.60" x2="2181.70" y2="2088.60" stroke="#808080" stroke-width="2.2"/>
<line x1="2176.20" y1="1964.60" x2="2187.20" y2="1964.60" stroke="#808080" stroke-width="2.2"/>
<line x1="2176.20" y1="2088.60" x2="2187.20" y2="2088.60" stroke="#808080" stroke-width="2.2"/>
<linearGradient id="gH" gradientUnits="userSpaceOnUse" x1="1889" y1="0" x2="2176.3" y2="0"><stop offset="0" stop-color="#3c3c3c"/><stop offset="1" stop-color="#959595"/></linearGradient>
<path d="M1889.0 1945.8 L2176.3 1950.0" stroke="url(#gH)" stroke-width="3.4" fill="none"/>
<text transform="translate(1981.00,1932.00) scale(0.9615,1)" font-size="45.54" fill="#0c0c0c">N.S.</text>
<text transform="translate(1830.75,2338.60) scale(0.9709,1)" font-size="44.27" fill="#0c0c0c">+ Orn</text>
<text transform="translate(1824.59,2387.40) scale(1.0000,1)" font-size="43.46" fill="#0c0c0c">(sum)</text>
<text transform="translate(2131.65,2338.60) scale(0.9709,1)" font-size="44.27" fill="#0c0c0c">+ Orn</text>
<text transform="translate(2132.97,2387.40) scale(1.0000,1)" font-size="43.86" fill="#0c0c0c">(mix)</text>
</svg>
</body></html>
